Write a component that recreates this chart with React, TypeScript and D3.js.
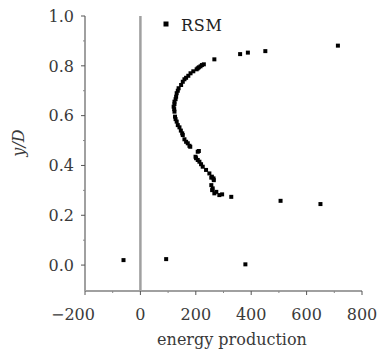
import React from "react";
import * as d3 from "d3";

const seriesName = "RSM";
const energy = [
  -61, 93, 379,
  506, 650, 328, 295,
  285, 274, 267, 261, 259, 256, 265, 264, 256, 258, 249, 237, 225, 219, 213, 207, 201, 199,
  207, 211, 180, 177, 171, 165, 159, 153, 151, 146, 141, 135, 131, 127, 125, 123, 122, 120,
  123, 123, 127, 129, 131, 135, 138, 147, 153, 159, 165, 173, 181, 191, 203, 207, 211, 217,
  222, 229, 267,
  360, 388, 451, 713,
];
const yOverD = [
  0.02, 0.024, 0.003,
  0.258, 0.245, 0.274, 0.284,
  0.281, 0.294, 0.288, 0.308, 0.301, 0.321, 0.341, 0.348, 0.351, 0.355, 0.368, 0.382, 0.395, 0.405, 0.415, 0.422, 0.429, 0.435,
  0.455, 0.458, 0.475, 0.479, 0.489, 0.495, 0.505, 0.522, 0.529, 0.54, 0.553, 0.562, 0.576, 0.586, 0.596, 0.616, 0.626, 0.636,
  0.646, 0.656, 0.666, 0.676, 0.69, 0.7, 0.71, 0.723, 0.736, 0.746, 0.752, 0.76, 0.77, 0.778, 0.786, 0.79, 0.794, 0.798,
  0.803, 0.806, 0.826,
  0.847, 0.853, 0.859, 0.881,
];
const xTicks = [-200, 0, 200, 400, 600, 800];
const xMinor = [-100, 100, 300, 500, 700];
const yTicks = [0.0, 0.2, 0.4, 0.6, 0.8, 1.0];
const yMinor = [0.1, 0.3, 0.5, 0.7, 0.9];

const W = 379;
const H = 350;
const left = 85;
const right = 362;
const top = 16;
const bottom = 290;
const axisColor = "#a0a0a0";
const font = "DejaVu Serif";
const textColor = "#3a3a3a";

export default function App() {
  const x = d3.scaleLinear().domain([-200, 800]).range([left, right]);
  const y = d3.scaleLinear().domain([-0.1, 1.0]).range([bottom, top]);
  const fmtY = d3.format(".1f");
  const fmtX = (v: number) => (v < 0 ? "\u2212" + Math.abs(v) : String(v));
  return (
    <div style={{ position: "absolute", left: 0, top: 0 }}>
      <svg width={W} height={H} style={{ display: "block", background: "#fff" }}>
        {/* zero line */}
        <line x1={x(0)} x2={x(0)} y1={y(1.0)} y2={bottom} stroke={axisColor} strokeWidth={2.5} />
        {/* axes */}
        <line x1={left} x2={left} y1={y(1.0)} y2={bottom + 1} stroke={axisColor} strokeWidth={2} />
        <line x1={left} x2={right} y1={bottom + 1} y2={bottom + 1} stroke={axisColor} strokeWidth={2} />
        {yTicks.map((t) => (
          <g key={"yt" + t}>
            <line x1={left - 4} x2={left} y1={y(t)} y2={y(t)} stroke="#555" strokeWidth={1} />
            <text x={left - 11} y={y(t)} dy="0.36em" textAnchor="end" fontFamily={font} fontSize={16} fill={textColor}>
              {fmtY(t)}
            </text>
          </g>
        ))}
        {yMinor.map((t) => (
          <line key={"ym" + t} x1={left - 2} x2={left} y1={y(t)} y2={y(t)} stroke="#888" strokeWidth={1} />
        ))}
        {xTicks.map((t) => (
          <g key={"xt" + t}>
            <line x1={x(t)} x2={x(t)} y1={bottom + 1} y2={bottom + 5} stroke="#555" strokeWidth={1} />
            <text x={x(t)} dx={t < 0 ? -12 : 0} y={320} textAnchor="middle" fontFamily={font} fontSize={16} fill={textColor}>
              {fmtX(t)}
            </text>
          </g>
        ))}
        {xMinor.map((t) => (
          <line key={"xm" + t} x1={x(t)} x2={x(t)} y1={bottom + 1} y2={bottom + 3} stroke="#888" strokeWidth={1} />
        ))}
        {/* axis titles */}
        <text x={232} y={345} textAnchor="middle" fontFamily={font} fontSize={16} fill={textColor}>
          energy production
        </text>
        <text
          transform={`translate(24,143) rotate(-90)`}
          textAnchor="middle"
          fontFamily={font}
          fontStyle="italic"
          fontSize={16}
          fill={textColor}
        >
          y/D
        </text>
        {/* legend */}
        <rect x={163.5} y={21.5} width={5} height={5} fill="#000" />
        <text x={181} y={30.5} fontFamily={font} fontSize={16} fill="#222" letterSpacing={0.8}>
          {seriesName}
        </text>
        {/* points */}
        {energy.map((e, i) => (
          <rect key={i} x={x(e) - 2} y={y(yOverD[i]) - 2} width={4} height={4} fill="#000" />
        ))}
      </svg>
    </div>
  );
}
